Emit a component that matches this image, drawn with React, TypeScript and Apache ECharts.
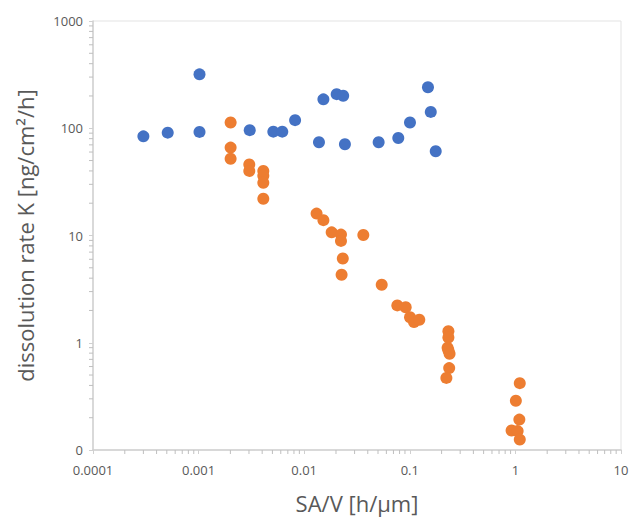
import React, { useEffect, useRef } from "react";
import * as echarts from "echarts";

const blueX = [0.0003, 0.00051, 0.00102, 0.00102, 0.00305, 0.0051, 0.0062, 0.0082, 0.0138, 0.0152, 0.0203, 0.0234, 0.0243, 0.0507, 0.0778, 0.1004, 0.1486, 0.158, 0.176];
const blueY = [84, 91, 318, 92.5, 96, 93, 93, 119, 74, 186, 208, 201, 71, 74, 81, 113, 241, 142, 61];

const orangeX = [0.00201, 0.00201, 0.00201, 0.00302, 0.00302, 0.0041, 0.0041, 0.0041, 0.0041, 0.0131, 0.0152, 0.0182, 0.0223, 0.0223, 0.0363, 0.0232, 0.0226, 0.0542, 0.0762, 0.0914, 0.1005, 0.1096, 0.123, 0.232, 0.232, 0.228, 0.232, 0.238, 0.236, 0.222, 1.10, 1.01, 1.09, 0.92, 1.05, 1.10];
const orangeY = [113, 66, 52, 46, 40, 40, 36, 31, 22, 16, 13.9, 10.7, 10.2, 8.9, 10.1, 6.1, 4.3, 3.47, 2.23, 2.14, 1.73, 1.56, 1.64, 1.28, 1.12, 0.9, 0.85, 0.79, 0.58, 0.47, 0.42, 0.288, 0.192, 0.152, 0.15, 0.125];

const xTickLabels = ["0.0001", "0.001", "0.01", "0.1", "1", "10"];
const yTickLabels = ["0", "1", "10", "100", "1000"];
const xDecades = [0.0001, 0.001, 0.01, 0.1, 1];
const yDecades = [0.1, 1, 10, 100];

const AXIS_GRAY = "#d0d0d0";
const TEXT_GRAY = "#595959";
const FONT = "'Open Sans', 'Noto Sans', sans-serif";

export default function App() {
  const ref = useRef<HTMLDivElement>(null);
  useEffect(() => {
    if (!ref.current) return;
    const chart = echarts.init(ref.current, undefined, { renderer: "svg" });
    const xMinor: number[] = [];
    xDecades.forEach((d) => { for (let k = 2; k <= 9; k++) xMinor.push(d * k); });
    const yMinor: number[] = [];
    yDecades.forEach((d) => { for (let k = 2; k <= 9; k++) yMinor.push(d * k); });

    const fmtX = (v: number) => {
      const e = Math.round(Math.log10(v));
      return xTickLabels[e + 4] ?? String(v);
    };
    const fmtY = (v: number) => {
      const e = Math.round(Math.log10(v));
      return yTickLabels[e + 1] ?? String(v);
    };

    chart.setOption({
      animation: false,
      backgroundColor: "#ffffff",
      grid: { left: 93, right: 11, top: 21, bottom: 66, show: true, borderColor: "#e3e3e3", borderWidth: 1 },
      xAxis: {
        type: "log",
        logBase: 10,
        min: 0.0001,
        max: 10,
        name: "SA/V [h/µm]",
        nameLocation: "middle",
        nameGap: 42,
        nameTextStyle: { color: TEXT_GRAY, fontSize: 22, fontFamily: FONT },
        axisLine: { lineStyle: { color: AXIS_GRAY, width: 1.5 } },
        axisTick: { show: true, length: 4, lineStyle: { color: AXIS_GRAY } },
        axisLabel: { color: TEXT_GRAY, fontSize: 13, fontFamily: FONT, margin: 13, formatter: fmtX },
        splitLine: { show: false },
      },
      yAxis: {
        type: "log",
        logBase: 10,
        min: 0.1,
        max: 1000,
        name: "dissolution rate K [ng/cm²/h]",
        nameLocation: "middle",
        nameGap: 57,
        nameTextStyle: { color: TEXT_GRAY, fontSize: 22, fontFamily: FONT },
        axisLine: { show: true, lineStyle: { color: AXIS_GRAY, width: 1.5 } },
        axisTick: { show: true, length: 4, lineStyle: { color: AXIS_GRAY } },
        axisLabel: { color: TEXT_GRAY, fontSize: 13, fontFamily: FONT, margin: 10, formatter: fmtY },
        splitLine: { show: false },
      },
      series: [
        {
          type: "scatter",
          symbolSize: 12,
          itemStyle: { color: "#4472C4", opacity: 1 },
          data: blueX.map((x, i) => [x, blueY[i]]),
        },
        {
          type: "scatter",
          symbolSize: 12,
          itemStyle: { color: "#ED7D31", opacity: 1 },
          data: orangeX.map((x, i) => [x, orangeY[i]]),
        },
        {
          type: "custom",
          clip: false,
          silent: true,
          data: xMinor.map((v) => [v, 0.1]),
          renderItem: (_p: any, api: any) => {
            const pt = api.coord([api.value(0), api.value(1)]);
            return {
              type: "line",
              shape: { x1: pt[0], y1: pt[1], x2: pt[0], y2: pt[1] + 4 },
              style: { stroke: "#bfbfbf", lineWidth: 1 },
            };
          },
        },
        {
          type: "custom",
          clip: false,
          silent: true,
          data: yMinor.map((v) => [0.0001, v]),
          renderItem: (_p: any, api: any) => {
            const pt = api.coord([api.value(0), api.value(1)]);
            return {
              type: "line",
              shape: { x1: pt[0] - 4, y1: pt[1], x2: pt[0], y2: pt[1] },
              style: { stroke: "#bfbfbf", lineWidth: 1 },
            };
          },
        },
      ],
    });
    return () => chart.dispose();
  }, []);
  return <div ref={ref} style={{ width: 632, height: 519, position: "absolute", left: 0, top: 0 }} />;
}
